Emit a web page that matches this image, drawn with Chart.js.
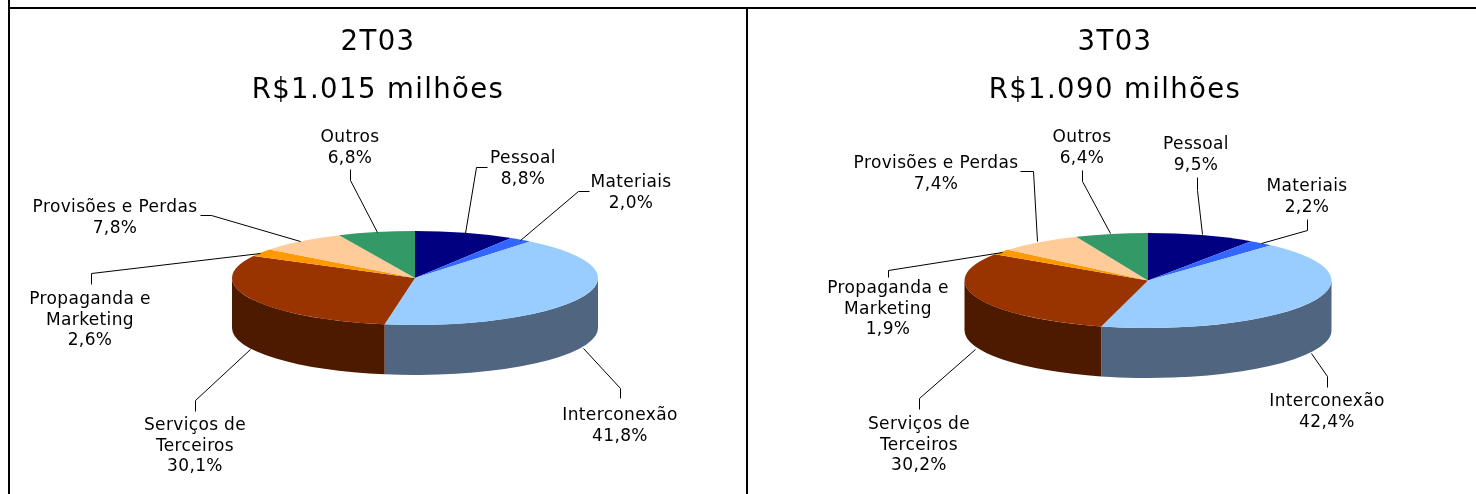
<!DOCTYPE html>
<html><head><meta charset="utf-8">
<style>
html,body{margin:0;padding:0;background:#fff;width:1476px;height:494px;overflow:hidden}
canvas{position:absolute;display:block}
.f{position:absolute;background:#000}
</style>
<script src="https://cdn.jsdelivr.net/npm/chart.js@4"></script>
</head><body>
<div class="f" style="left:8px;top:0;width:2px;height:494px"></div>
<div class="f" style="left:8px;top:7px;width:1468px;height:2px"></div>
<div class="f" style="left:746px;top:7px;width:2px;height:487px"></div>
<canvas id="c1" width="736" height="485" style="left:10px;top:9px"></canvas>
<canvas id="c2" width="722" height="485" style="left:754px;top:9px"></canvas>
<script>
const categories = ['Pessoal','Materiais','Interconexão','Serviços de Terceiros','Propaganda e Marketing','Provisões e Perdas','Outros'];
const labelLines = [['Pessoal'],['Materiais'],['Interconexão'],['Serviços de','Terceiros'],['Propaganda e','Marketing'],['Provisões e Perdas'],['Outros']];
const values2T03 = [8.8,2.0,41.8,30.1,2.6,7.8,6.8];
const values3T03 = [9.5,2.2,42.4,30.2,1.9,7.4,6.4];
const titles2T03 = ['2T03','R$1.015 milhões'];
const titles3T03 = ['3T03','R$1.090 milhões'];
const topColors = ['#000080','#3366FF','#99CCFF','#993300','#FF9900','#FFCC99','#339966'];
const wallColors = ['#000040','#1A3380','#4F6580','#4D1A00','#804D00','#80664D','#1A4D33'];

// layout (page pixels): text centre x, first-line centre y, leader polyline
const layout2T03 = [
 {x:523,y:159,line:[[487,167],[476,167],[465,233]]},
 {x:631,y:183,line:[[589,191],[578,191],[520,240]]},
 {x:620,y:416,line:[[583,348],[620,388],[620,398]]},
 {x:195,y:426,line:[[250,349],[195,400],[195,411]]},
 {x:90,y:300,line:[[260,253],[91,273],[91,284]]},
 {x:115,y:208,line:[[200,215],[211,215],[300,241]]},
 {x:350,y:138,line:[[350,169],[350,180],[377,232]]}
];
const layout3T03 = [
 {x:1196,y:145,line:[[1197,177],[1197,190],[1202,234]]},
 {x:1307,y:187,line:[[1307,219],[1307,230],[1261,243]]},
 {x:1327,y:402,line:[[1311,353],[1327,376],[1327,387]]},
 {x:919,y:425,line:[[975,349],[919,398],[919,409]]},
 {x:888,y:289,line:[[1002,252],[888,270],[888,277]]},
 {x:936,y:164,line:[[1020,171],[1033,171],[1037,241]]},
 {x:1082,y:138,line:[[1082,170],[1082,181],[1110,233]]}
];
const FONT='"DejaVu Sans"';
const pie3d = {
 id:'pie3d',
 beforeDraw(chart){ chart.ctx.letterSpacing='1.4px'; },
 beforeDatasetsDraw(chart,args,opts){
  const ctx=chart.ctx, arcs=chart.getDatasetMeta(0).data, k=opts.squash, d=opts.depth;
  ctx.letterSpacing='0px';
  ctx.save();
  ctx.translate(opts.dx,0);
  arcs.forEach((a,i)=>{
   const p=a.getProps(['x','y','startAngle','endAngle','outerRadius'],true);
   const s=Math.max(p.startAngle,0), e=Math.min(p.endAngle,Math.PI);
   if(e<=s) return;
   const ry=p.outerRadius*k;
   ctx.beginPath();
   ctx.ellipse(p.x,p.y,p.outerRadius,ry,0,s,e,false);
   ctx.ellipse(p.x,p.y+d,p.outerRadius,ry,0,e,s,true);
   ctx.closePath();
   ctx.fillStyle=wallColors[i];
   ctx.fill();
  });
  const c=arcs[0];
  ctx.translate(c.x,c.y);ctx.scale(1,k);ctx.translate(-c.x,-c.y);
 },
 afterDatasetsDraw(chart,args,opts){
  const ctx=chart.ctx;
  ctx.restore();
  const vals=chart.data.datasets[0].data;
  ctx.save();
  ctx.strokeStyle='#000';ctx.lineWidth=1;
  ctx.font='17px '+FONT;ctx.letterSpacing='0.35px';ctx.fillStyle='#000';ctx.textAlign='center';ctx.textBaseline='middle';
  opts.layout.forEach((l,i)=>{
   ctx.beginPath();
   l.line.forEach((pt,j)=>{const X=pt[0]-opts.ox+.5,Y=pt[1]-opts.oy+.5; j?ctx.lineTo(X,Y):ctx.moveTo(X,Y);});
   ctx.stroke();
   const rows=[...labelLines[i],vals[i].toFixed(1).replace('.',',')+'%'];
   rows.forEach((t,n)=>ctx.fillText(t,l.x-opts.ox,l.y-opts.oy+n*20.3));
  });
  ctx.restore();
 }
};
function make(id,vals,title,layout,ox,oy,dx,padB,R,k,d){
 return new Chart(document.getElementById(id),{
  type:'pie',
  data:{labels:categories,datasets:[{data:vals,backgroundColor:topColors,borderWidth:0,radius:R,clip:false}]},
  plugins:[pie3d],
  options:{responsive:false,animation:false,events:[],
   layout:{padding:{left:0,right:0,top:0,bottom:padB}},
   plugins:{legend:{display:false},tooltip:{enabled:false},
    title:{display:true,text:title,color:'#000',align:'center',padding:{top:10,bottom:0},font:{family:FONT,size:27.5,weight:'normal',lineHeight:'48px'}},
    pie3d:{dx,squash:k,depth:d,layout,ox,oy}}
  }
 });
}
make('c1',values2T03,titles2T03,layout2T03,10,9,37,53,183,47/183,50);
make('c2',values3T03,titles3T03,layout3T03,754,9,33,48,183.5,47.5/183.5,50);
</script>
</body></html>
